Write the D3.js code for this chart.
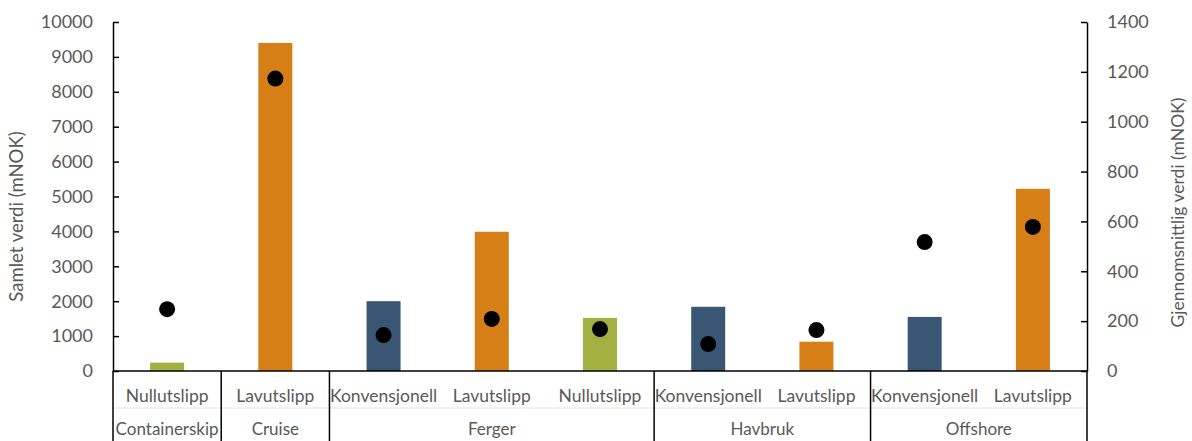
<!DOCTYPE html>
<meta charset="utf-8">
<script src="https://d3js.org/d3.v7.min.js"></script>
<style>
  body { margin: 0; background: #fff; }
  text { font-family: Lato, "Open Sans", sans-serif; fill: #595959; }
</style>
<div id="chart"></div>
<script>

    // data
    var categories = ["Nullutslipp", "Lavutslipp", "Konvensjonell", "Lavutslipp", "Nullutslipp",
                      "Konvensjonell", "Lavutslipp", "Konvensjonell", "Lavutslipp"];
    var groups = [
        {name: "Containerskip", n: 1},
        {name: "Cruise", n: 1},
        {name: "Ferger", n: 3},
        {name: "Havbruk", n: 2},
        {name: "Offshore", n: 2}
    ];
    var totalValue = [240, 9400, 2000, 3990, 1520, 1840, 840, 1550, 5220];   // left axis
    var avgValue = [248, 1173, 144, 209, 168, 108, 164, 517, 578];            // right axis
    var barColor = ["#a5b042", "#d77f17", "#3a5675", "#d77f17", "#a5b042",
                    "#3a5675", "#d77f17", "#3a5675", "#d77f17"];
    var leftTicks = [0, 1000, 2000, 3000, 4000, 5000, 6000, 7000, 8000, 9000, 10000];
    var rightTicks = [0, 200, 400, 600, 800, 1000, 1200, 1400];

    var width = 1192, height = 441;
    var margin = {top: 22, right: 105, bottom: 70, left: 113};

    var svg = d3.select("#chart")
        .append("svg")
            .attr("width", width)
            .attr("height", height);

    var x = d3.scaleBand()
        .domain(d3.range(categories.length))
        .range([margin.left, width - margin.right]);

    var yL = d3.scaleLinear().domain([0, 10000]).range([height - margin.bottom, margin.top]);
    var yR = d3.scaleLinear().domain([0, 1400]).range([height - margin.bottom, margin.top]);

    var barW = 34;

    // bars
    svg.append("g")
        .selectAll("rect")
        .data(totalValue)
        .enter().append("rect")
        .attr("x", function (d, i) { return x(i) + x.bandwidth() / 2 - barW / 2; })
        .attr("y", function (d) { return yL(d); })
        .attr("width", barW)
        .attr("height", function (d) { return yL(0) - yL(d); })
        .attr("fill", function (d, i) { return barColor[i]; });

    // dots
    svg.append("g")
        .selectAll("circle")
        .data(avgValue)
        .enter().append("circle")
        .attr("cx", function (d, i) { return x(i) + x.bandwidth() / 2; })
        .attr("cy", function (d) { return yR(d); })
        .attr("r", 8)
        .attr("fill", "#000");

    // left axis
    var gL = svg.append("g")
        .attr("transform", "translate(" + margin.left + ",0)")
        .call(d3.axisRight(yL).tickValues(leftTicks).tickSize(6).tickSizeOuter(0).tickFormat(d3.format("d")));
    gL.selectAll("text").remove();
    gL.selectAll("line, path").attr("stroke", "#000").attr("stroke-width", 1.5);
    svg.append("g")
        .selectAll("text")
        .data(leftTicks)
        .enter().append("text")
        .attr("x", margin.left - 20)
        .attr("y", function (d) { return yL(d); })
        .attr("dy", "0.35em")
        .attr("text-anchor", "end")
        .style("font-size", "18px")
        .text(function (d) { return d; });

    // right axis
    var gR = svg.append("g")
        .attr("transform", "translate(" + (width - margin.right) + ",0)")
        .call(d3.axisLeft(yR).tickValues(rightTicks).tickSize(6).tickSizeOuter(0));
    gR.selectAll("text").remove();
    gR.selectAll("line, path").attr("stroke", "#000").attr("stroke-width", 1.5);
    svg.append("g")
        .selectAll("text")
        .data(rightTicks)
        .enter().append("text")
        .attr("x", width - margin.right + 20)
        .attr("y", function (d) { return yR(d); })
        .attr("dy", "0.35em")
        .attr("text-anchor", "start")
        .style("font-size", "18px")
        .text(function (d) { return d; });

    // baseline
    svg.append("line")
        .attr("x1", margin.left).attr("x2", width - margin.right)
        .attr("y1", yL(0)).attr("y2", yL(0))
        .attr("stroke", "#000").attr("stroke-width", 1.5);

    // faint line between label rows
    svg.append("line")
        .attr("x1", margin.left).attr("x2", width - margin.right)
        .attr("y1", 408).attr("y2", 408)
        .attr("stroke", "#e4e4e4").attr("stroke-width", 1);

    // category labels
    svg.append("g")
        .selectAll("text")
        .data(categories)
        .enter().append("text")
        .attr("x", function (d, i) { return x(i) + x.bandwidth() / 2; })
        .attr("y", 402)
        .attr("text-anchor", "middle")
        .style("font-size", "17.5px")
        .text(function (d) { return d; });

    // group labels and dividers
    var start = 0;
    var edges = [0];
    groups.forEach(function (g) {
        g.start = start;
        start += g.n;
        edges.push(start);
    });
    svg.append("g")
        .selectAll("text")
        .data(groups)
        .enter().append("text")
        .attr("x", function (g) { return x(g.start) + g.n * x.bandwidth() / 2; })
        .attr("y", 435)
        .attr("text-anchor", "middle")
        .style("font-size", "17px")
        .text(function (g) { return g.name; });

    svg.append("g")
        .selectAll("line")
        .data(edges)
        .enter().append("line")
        .attr("x1", function (e) { return e < categories.length ? x(e) : width - margin.right; })
        .attr("x2", function (e) { return e < categories.length ? x(e) : width - margin.right; })
        .attr("y1", yL(0))
        .attr("y2", height)
        .attr("stroke", "#000").attr("stroke-width", 1.5);

    // axis titles
    svg.append("text")
        .attr("transform", "translate(23," + ((margin.top + height - margin.bottom) / 2 + 20) + ") rotate(-90)")
        .attr("text-anchor", "middle")
        .style("font-size", "18.5px")
        .text("Samlet verdi (mNOK)");

    svg.append("text")
        .attr("transform", "translate(1184," + ((margin.top + height - margin.bottom) / 2 + 16) + ") rotate(-90)")
        .attr("text-anchor", "middle")
        .style("font-size", "17.5px")
        .text("Gjennomsnittlig verdi (mNOK)");

</script>
